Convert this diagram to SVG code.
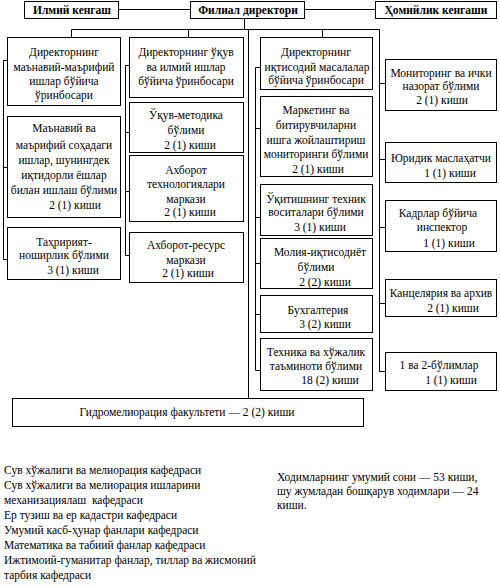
<svg xmlns="http://www.w3.org/2000/svg" width="500" height="586" viewBox="0 0 500 586">
<style>
rect{fill:#fff;stroke:#000;stroke-width:1}
.c path{fill:none;stroke:#000;stroke-width:1}
text{font-family:"Liberation Serif","Times New Roman",serif;font-size:11.5px;fill:#000}
.m{text-anchor:middle}
.b{font-weight:bold;font-size:11.5px;text-anchor:middle}
</style>
<rect width="500" height="586" style="stroke:none"/>
<g class="c" id="connectors">
<path d="M118.5 9.5H190.5M304.5 9.5H375.5"/>
<path d="M244.5 18.5V29.5M71.5 29.5H379.5M71.5 29.5V37.5M188.5 29.5V37.5M322.5 29.5V37.5M248.5 29.5V398.5"/>
<path d="M7.5 60.5H3.5V259.5H7.5M3.5 167.5H7.5"/>
<path d="M129.5 65.5H125.5V255.5H129.5M125.5 132.5H129.5M125.5 191.5H129.5"/>
<path d="M260.5 67.5H255.5V370.5H260.5M255.5 128.5H260.5M255.5 217.5H260.5M255.5 263.5H260.5M255.5 314.5H260.5"/>
<path d="M379.5 29.5V371.5H385.5M379.5 83.5H385.5M379.5 159.5H385.5M379.5 227.5H385.5M379.5 303.5H385.5"/>
</g>
<g id="ilmiy"><rect x="24.5" y="1.5" width="94" height="17"/><text class="b" x="72" y="13.5">Илмий кенгаш</text></g>
<g id="director"><rect x="190.5" y="1.5" width="114" height="17"/><text class="b" x="248" y="13.5">Филиал директори</text></g>
<g id="homiylik"><rect x="375.5" y="1.5" width="121" height="17"/><text class="b" x="436" y="13.5">Ҳомийлик кенгаши</text></g>

<g id="c1b1"><rect x="7.5" y="37.5" width="113" height="68"/>
<text class="m" x="64" y="56">Директорнинг</text><text class="m" x="64" y="71">маънавий-маърифий</text><text class="m" x="64" y="85">ишлар бўйича</text><text class="m" x="64" y="99">ўринбосари</text></g>
<g id="c1b2"><rect x="7.5" y="116.5" width="113" height="101"/>
<text class="m" x="64" y="132">Маънавий ва</text><text class="m" x="64" y="149">маърифий соҳадаги</text><text class="m" x="64" y="164">ишлар, шунингдек</text><text class="m" x="64" y="179">иқтидорли ёшлар</text><text class="m" x="64" y="194">билан ишлаш бўлими</text><text class="m" x="75" y="209">2 (1) киши</text></g>
<g id="c1b3"><rect x="7.5" y="227.5" width="113" height="52"/>
<text class="m" x="64" y="246">Таҳририят-</text><text class="m" x="64" y="259">ноширлик бўлими</text><text class="m" x="73" y="274">3 (1) киши</text></g>

<g id="c2b1"><rect x="129.5" y="37.5" width="114" height="60"/>
<text class="m" x="186" y="56">Директорнинг ўқув</text><text class="m" x="186" y="71">ва илмий ишлар</text><text class="m" x="186" y="85">бўйича ўринбосари</text></g>
<g id="c2b2"><rect x="129.5" y="102.5" width="114" height="50"/>
<text class="m" x="186" y="119">Ўқув-методика</text><text class="m" x="186" y="134">бўлими</text><text class="m" x="190" y="149">2 (1) киши</text></g>
<g id="c2b3"><rect x="129.5" y="155.5" width="114" height="66"/>
<text class="m" x="186" y="174">Ахборот</text><text class="m" x="186" y="188">технологиялари</text><text class="m" x="186" y="203">маркази</text><text class="m" x="190" y="216">2 (1) киши</text></g>
<g id="c2b4"><rect x="129.5" y="232.5" width="114" height="50"/>
<text class="m" x="186" y="249">Ахборот-ресурс</text><text class="m" x="186" y="264">маркази</text><text class="m" x="188" y="277">2 (1) киши</text></g>

<g id="c3b1"><rect x="260.5" y="37.5" width="112" height="52"/>
<text class="m" x="316" y="56">Директорнинг</text><text class="m" x="317" y="71">иқтисодий  масалалар</text><text class="m" x="316" y="84">бўйича ўринбосари</text></g>
<g id="c3b2"><rect x="260.5" y="96.5" width="112" height="80"/>
<text class="m" x="316" y="114">Маркетинг ва</text><text class="m" x="316" y="129">битирувчиларни</text><text class="m" x="316" y="144">ишга жойлаштириш</text><text class="m" x="316" y="158">мониторинги бўлими</text><text class="m" x="318" y="173">2 (1) киши</text></g>
<g id="c3b3"><rect x="260.5" y="184.5" width="112" height="51"/>
<text class="m" x="316" y="203">Ўқитишнинг техник</text><text class="m" x="316" y="216">воситалари бўлими</text><text class="m" x="320" y="231">3 (1) киши</text></g>
<g id="c3b4"><rect x="260.5" y="238.5" width="112" height="50"/>
<text class="m" x="320" y="256">Молия-иқтисодиёт</text><text class="m" x="316" y="271">бўлими</text><text class="m" x="325" y="286">2 (2) киши</text></g>
<g id="c3b5"><rect x="260.5" y="295.5" width="112" height="37"/>
<text class="m" x="318" y="314">Бухгалтерия</text><text class="m" x="325" y="328">3 (2) киши</text></g>
<g id="c3b6"><rect x="260.5" y="338.5" width="112" height="52"/>
<text class="m" x="316" y="356">Техника ва хўжалик</text><text class="m" x="316" y="370">таъминоти бўлими</text><text class="m" x="330" y="384">18 (2) киши</text></g>

<g id="c4b1"><rect x="385.5" y="59.5" width="111" height="51"/>
<text class="m" x="441" y="77">Мониторинг ва ички</text><text class="m" x="441" y="90">назорат бўлими</text><text class="m" x="442" y="104">2 (1) киши</text></g>
<g id="c4b2"><rect x="385.5" y="142.5" width="111" height="40"/>
<text class="m" x="441" y="162">Юридик маслаҳатчи</text><text class="m" x="450" y="177">1 (1) киши</text></g>
<g id="c4b3"><rect x="385.5" y="200.5" width="111" height="51"/>
<text class="m" x="438" y="217">Кадрлар бўйича</text><text class="m" x="442" y="231">инспектор</text><text class="m" x="449" y="247">1 (1) киши</text></g>
<g id="c4b4"><rect x="385.5" y="279.5" width="111" height="37"/>
<text class="m" x="441" y="297">Канцелярия ва архив</text><text class="m" x="453" y="312">2 (1) киши</text></g>
<g id="c4b5"><rect x="385.5" y="352.5" width="111" height="38"/>
<text class="m" x="439" y="369">1 ва 2-бўлимлар</text><text class="m" x="451" y="384">1 (1) киши</text></g>

<g id="faculty"><rect x="12.5" y="398.5" width="351" height="28"/>
<text class="m" x="187" y="416">Гидромелиорация факультети — 2 (2) киши</text></g>

<g id="departments">
<text x="4" y="474">Сув хўжалиги ва мелиорация кафедраси</text>
<text x="4" y="489">Сув хўжалиги ва мелиорация ишларини</text>
<text x="4" y="504" xml:space="preserve">механизациялаш  кафедраси</text>
<text x="4" y="519">Ер тузиш ва ер кадастри кафедраси</text>
<text x="4" y="534">Умумий касб-ҳунар фанлари кафедраси</text>
<text x="4" y="549">Математика ва табиий фанлар кафедраси</text>
<text x="4" y="564">Ижтимоий-гуманитар фанлар, тиллар ва жисмоний</text>
<text x="4" y="579">тарбия кафедраси</text>
</g>
<g id="staff">
<text x="277" y="481">Ходимларнинг умумий сони — 53 киши,</text>
<text x="277" y="495">шу жумладан бошқарув ходимлари — 24</text>
<text x="277" y="509">киши.</text>
</g>
</svg>
